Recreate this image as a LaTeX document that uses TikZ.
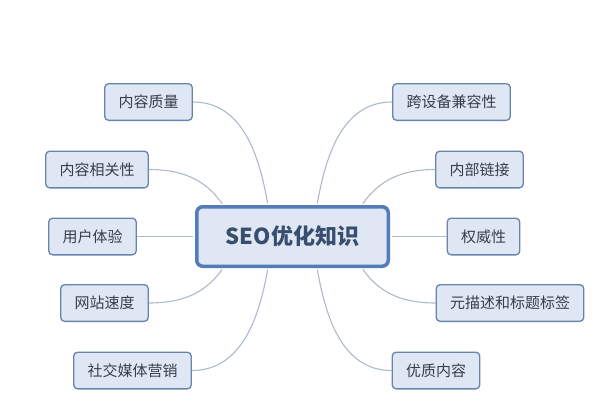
\documentclass[tikz,border=0pt]{standalone}
\usepackage{fontspec}
\setmainfont{Noto Sans CJK SC}
\usetikzlibrary{calc}
\definecolor{SeoEdge}{RGB}{104,132,172}
\definecolor{SeoFill}{RGB}{222,231,243}
\definecolor{SeoText}{RGB}{58,62,72}
\definecolor{SeoHubEdge}{RGB}{84,124,184}
\definecolor{SeoHubText}{RGB}{56,78,110}
\definecolor{SeoLine}{RGB}{172,186,202}
\tikzset{
  seo/box/.style={
    draw=SeoEdge,
    line width=1.3pt,
    rounded corners=4pt,
    fill=SeoFill,
    text=SeoText,
    minimum height=36.7pt,
    inner xsep=13.8pt,
    inner ysep=0pt,
    font=\fontsize{15}{15}\selectfont
  },
  seo/hub/.style={
    draw=SeoHubEdge,
    line width=3.5pt,
    rounded corners=6pt,
    fill=SeoFill,
    text=SeoHubText,
    minimum width=191.5pt,
    minimum height=59.5pt,
    font=\fontsize{22}{22}\selectfont\bfseries
  },
  seo/link/.style={draw=SeoLine, line width=1.1pt, shorten >=1.7pt}
}
\begin{document}
\begin{tikzpicture}[x=1pt,y=1pt]
  \useasboundingbox (0,0) rectangle (610,400);
  \node[seo/hub] (c) at (292.5,163.5) {SEO优化知识};
  % left side
  \node[seo/box] (q1) at (148.5,298) {内容质量};
  \node[seo/box] (q2) at (97,230.5) {内容相关性};
  \node[seo/box] (q3) at (92.5,163.5) {用户体验};
  \node[seo/box] (q4) at (104.5,97) {网站速度};
  \node[seo/box] (q5) at (132.5,29.5) {社交媒体营销};
  % right side
  \node[seo/box] (r1) at (451.5,298) {跨设备兼容性};
  \node[seo/box] (r2) at (479.5,230.5) {内部链接};
  \node[seo/box] (r3) at (483.5,163.5) {权威性};
  \node[seo/box] (r4) at (510,97) {元描述和标题标签};
  \node[seo/box] (r5) at (436,29.5) {优质内容};
  % attach points on the hub
  \coordinate (tA) at ($(c.north west)!0.144!(c.north east)$);
  \coordinate (tB) at ($(c.north west)!0.374!(c.north east)$);
  \coordinate (tC) at ($(c.north west)!0.626!(c.north east)$);
  \coordinate (tD) at ($(c.north west)!0.856!(c.north east)$);
  \coordinate (bA) at ($(c.south west)!0.144!(c.south east)$);
  \coordinate (bB) at ($(c.south west)!0.374!(c.south east)$);
  \coordinate (bC) at ($(c.south west)!0.626!(c.south east)$);
  \coordinate (bD) at ($(c.south west)!0.856!(c.south east)$);
  \draw[seo/link] (q1.east) to[out=0,in=100] (tB);
  \draw[seo/link] (q2.east) to[out=0,in=125] (tA);
  \draw[seo/link] (q3.east) -- (c.west);
  \draw[seo/link] (q4.east) to[out=0,in=-125] (bA);
  \draw[seo/link] (q5.east) to[out=0,in=-100] (bB);
  \draw[seo/link] (r1.west) to[out=180,in=80] (tC);
  \draw[seo/link] (r2.west) to[out=180,in=55] (tD);
  \draw[seo/link] (r3.west) -- (c.east);
  \draw[seo/link] (r4.west) to[out=180,in=-55] (bD);
  \draw[seo/link] (r5.west) to[out=180,in=-80] (bC);
\end{tikzpicture}
\end{document}
